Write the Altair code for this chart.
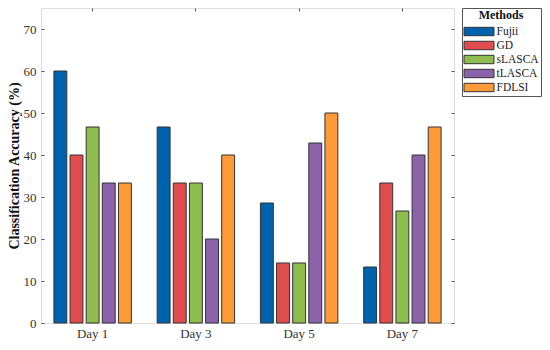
import altair as alt
import pandas as pd

days = ["Day 1", "Day 3", "Day 5", "Day 7"]
methods = ["Fujii", "GD", "sLASCA", "tLASCA", "FDLSI"]
colors = ["#0062ad", "#e04d4f", "#8fbc4f", "#8a63a9", "#fd9a3a"]

fujii = [60.0, 46.67, 28.57, 13.33]
gd = [40.0, 33.33, 14.29, 33.33]
slasca = [46.67, 33.33, 14.29, 26.67]
tlasca = [33.33, 20.0, 42.86, 40.0]
fdlsi = [33.33, 40.0, 50.0, 46.67]

series = [fujii, gd, slasca, tlasca, fdlsi]
rows = []
for m, vals in zip(methods, series):
    for d, v in zip(days, vals):
        rows.append({"Day": d, "Method": m, "Value": v})
df = pd.DataFrame(rows)

FONT = "Liberation Serif"

xscale = alt.Scale(domain=days, paddingInner=0, paddingOuter=0)
yscale = alt.Scale(domain=[0, 75], nice=False)

bars = alt.Chart(df).mark_bar(stroke="#333333", strokeWidth=1, opacity=1).encode(
    x=alt.X("Day:N", scale=xscale, sort=days,
            axis=alt.Axis(title=None, orient="bottom", domain=False, offset=-3,
                          tickSize=3, tickColor="#555555", labelPadding=4,
                          labelFont=FONT, labelFontSize=13, labelColor="#333333",
                          labelAngle=0)),
    xOffset=alt.XOffset("Method:N", sort=methods,
                        scale=alt.Scale(paddingInner=0.2, paddingOuter=0.8)),
    y=alt.Y("Value:Q", scale=yscale,
            axis=alt.Axis(title="Classification Accuracy (%)", orient="left",
                          values=[0, 10, 20, 30, 40, 50, 60, 70], domain=False,
                          offset=-3, tickSize=3, tickColor="#555555",
                          labelPadding=5, labelFont=FONT, labelFontSize=13,
                          labelColor="#333333", grid=False,
                          titleFont=FONT, titleFontSize=14, titleFontWeight="bold",
                          titleColor="#111111", titlePadding=2)),
    color=alt.Color("Method:N", sort=methods,
                    scale=alt.Scale(domain=methods, range=colors),
                    legend=alt.Legend(title="Methods", orient="none",
                                      legendX=421, legendY=0,
                                      titleFont=FONT, titleFontSize=12,
                                      titleFontWeight="bold", titleColor="#111111",
                                      titleAnchor="middle", titlePadding=3,
                                      labelFont=FONT, labelFontSize=11.5,
                                      labelColor="#222222", labelOffset=11,
                                      symbolType="M-2.5,-0.7H2.5V0.7H-2.5Z",
                                      symbolSize=144, symbolOffset=8.5,
                                      symbolStrokeColor="#333333",
                                      symbolStrokeWidth=1, symbolOpacity=1,
                                      rowPadding=1, strokeColor="#555555",
                                      padding=2, fillColor="white")),
)

frame = alt.Chart(df).mark_point(opacity=0).encode(
    x=alt.X("Day:N", scale=xscale, sort=days,
            axis=alt.Axis(title=None, orient="top", labels=False, domain=False,
                          offset=-3, tickSize=3, tickColor="#555555")),
    y=alt.Y("Value:Q", scale=yscale,
            axis=alt.Axis(title=None, orient="right", labels=False, domain=False,
                          values=[0, 10, 20, 30, 40, 50, 60, 70],
                          offset=-3, tickSize=3, tickColor="#555555", grid=False)),
)

chart = alt.layer(bars, frame).resolve_axis(x="independent", y="independent").properties(
    width=413, height=315,
    autosize=alt.AutoSizeParams(type="none"),
    padding={"left": 33, "top": 0, "right": 88, "bottom": 24},
).configure_view(stroke="#555555", strokeWidth=1).configure(background="white")

chart.save("out.html", embed_options={"renderer": "svg", "actions": False})
